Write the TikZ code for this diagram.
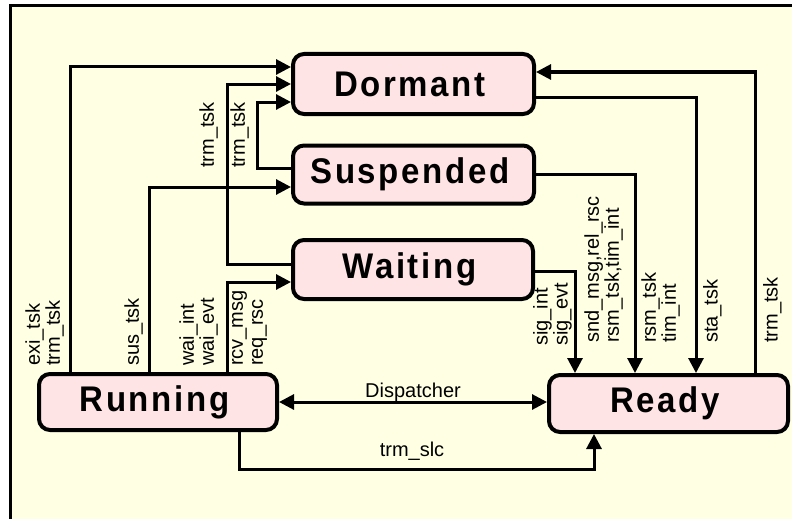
\documentclass[tikz,border=0pt]{standalone}
\usepackage{fontspec}
\setmainfont{Liberation Sans}
\newfontfamily\boxfont[LetterSpace=8]{Liberation Sans}
\usetikzlibrary{arrows.meta}
\definecolor{bgyellow}{RGB}{255,255,228}
\definecolor{boxpink}{RGB}{255,228,230}
\newcommand{\stxt}[1]{\scalebox{1}[1.08]{#1\hspace*{7pt}}}
\begin{document}
\begin{tikzpicture}[x=1pt,y=-1pt,
  state/.style={draw, line width=4pt, rounded corners=11pt, fill=boxpink, inner sep=0pt,
    font=\boxfont\bfseries\fontsize{33}{33}\selectfont},
  conn/.style={line width=3pt, -{Triangle[length=15pt,width=15pt]}},
  both/.style={line width=3pt, {Triangle[length=15pt,width=15pt]}-{Triangle[length=15pt,width=15pt]}},
  lbl/.style={font=\fontsize{20}{20}\selectfont, inner sep=0pt, rotate=90, align=left},
  hlbl/.style={font=\fontsize{20}{20}\selectfont, inner sep=0pt, anchor=base},
]
\useasboundingbox (0,0) rectangle (792,519);
\fill[white] (0,0) rectangle (792,519);
\draw[line width=3pt, fill=bgyellow] (10.5,5.5) rectangle (810,535);

\node[state, minimum width=241pt, minimum height=60pt] (dor) at (413.5,84) {\stxt{Dormant}};
\node[state, minimum width=241pt, minimum height=58pt] (sus) at (413.5,174.5) {\stxt{Suspended}};
\node[state, minimum width=240pt, minimum height=59pt] (wai) at (413,269.5) {\stxt{Waiting}};
\node[state, minimum width=238pt, minimum height=56pt] (run) at (158,402) {\stxt{Running}};
\node[state, minimum width=239pt, minimum height=57pt] (rdy) at (668.5,403.5) {\stxt{Ready}};

% left side
\draw[conn] (70,0 |- run.north) |- (dor.west |- 0,67);
\draw[conn] (wai.west |- 0,264) -| (227,84) -- (dor.west |- 0,84);
\draw[conn] (sus.west |- 0,168) -| (257,102) -- (dor.west |- 0,102);
\draw[conn] (149,0 |- run.north) |- (sus.west |- 0,187);
\draw[conn] (227,0 |- run.north) |- (wai.west |- 0,282);
% right side
\draw[conn] (dor.east |- 0,97) -| (696,0 |- rdy.north);
\draw[conn] (755,0 |- rdy.north) |- (dor.east |- 0,72);
\draw[conn] (sus.east |- 0,174) -| (635,0 |- rdy.north);
\draw[conn] (wai.east |- 0,271) -| (575,0 |- rdy.north);
% bottom
\draw[both] (run.east) -- (rdy.west |- run.east);
\draw[conn] (239,0 |- run.south) |- (594,469) -- (594,0 |- rdy.south);

% labels
\node[lbl, anchor=south west] (l1) at (64,366) {exi\_tsk\\trm\_tsk};
\node[lbl, anchor=south west] (l2) at (143,366) {sus\_tsk};
\node[lbl, anchor=south west] (l3) at (218,366) {wai\_int\\wai\_evt};
\node[lbl, anchor=north west] (l4) at (232,366) {rcv\_msg\\req\_rsc};
\node[lbl, anchor=south west] (l5) at (218,168) {trm\_tsk};
\node[lbl, anchor=south west] (l6) at (249,168) {trm\_tsk};
\node[lbl, anchor=south west] (l7) at (572,346) {sig\_int\\sig\_evt};
\node[lbl, anchor=south west] (l8) at (623,343) {snd\_msg,rel\_rsc\\rsm\_tsk,tim\_int};
\node[lbl, anchor=south west] (l9) at (680,343) {rsm\_tsk\\tim\_int};
\node[lbl, anchor=north west] (l10) at (703,343) {sta\_tsk};
\node[lbl, anchor=north west] (l11) at (763,343) {trm\_tsk};
\node[hlbl] (l12) at (413,397) {Dispatcher};
\node[hlbl] (l13) at (412,456) {trm\_slc};
\end{tikzpicture}
\end{document}
